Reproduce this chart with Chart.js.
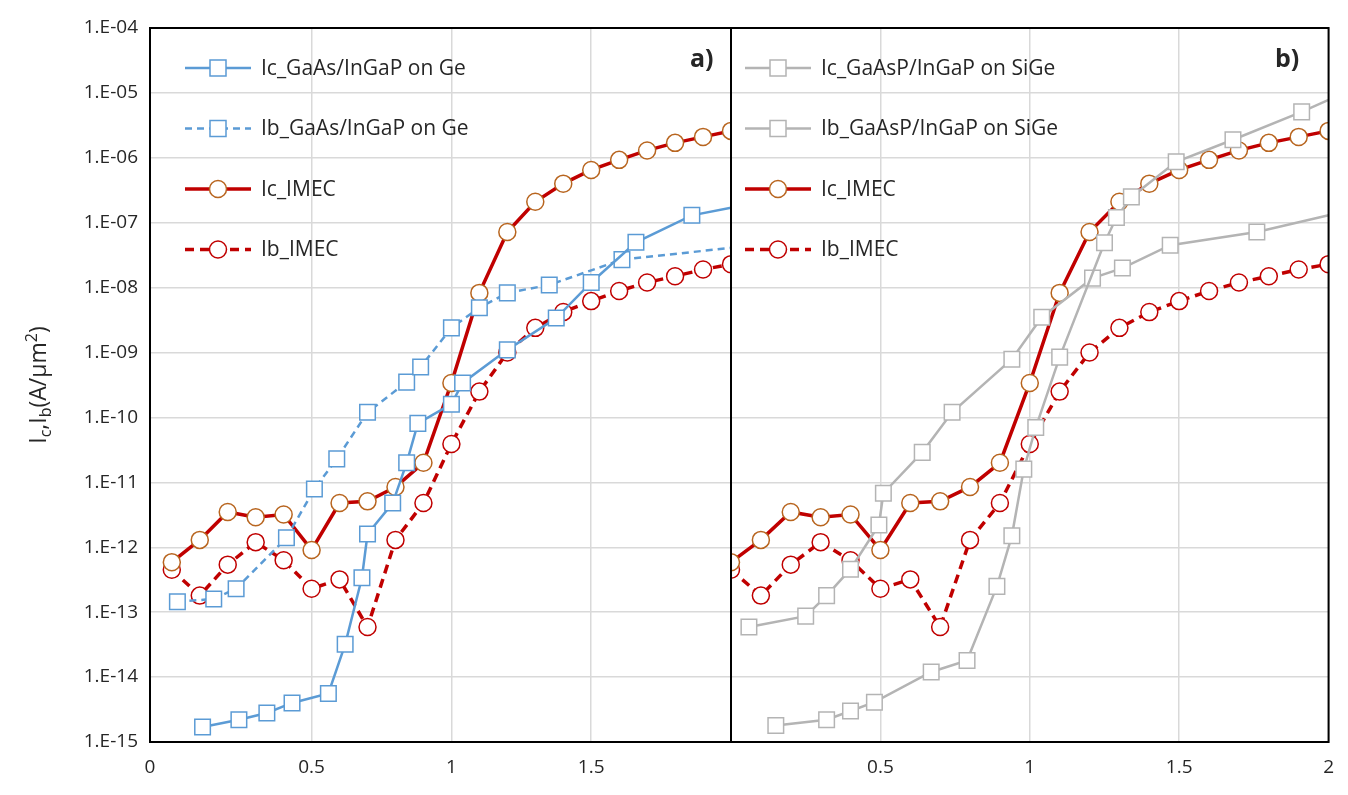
<!DOCTYPE html>
<html>
<head>
<meta charset="utf-8">
<script src="https://cdn.jsdelivr.net/npm/chart.js@4.4.1/dist/chart.umd.min.js"></script>
<style>
  body { margin: 0; background: #fff; }
  #wrapA { position: absolute; left: 0; top: 0; width: 733px; height: 795px; }
  #wrapB { position: absolute; left: 731px; top: 0; width: 617px; height: 795px; }
</style>
</head>
<body>
<div id="wrapA"><canvas id="chartA"></canvas></div>
<div id="wrapB"><canvas id="chartB"></canvas></div>
<script>
// IMEC reference curves (same in both panels)
const xImec = [0,0.1,0.2,0.3,0.4,0.5,0.6,0.7,0.8,0.9,1.0,1.1,1.2,1.3,1.4,1.5,1.6,1.7,1.8,1.9,2.0]
const icImec = [5.9e-13,1.3e-12,3.5e-12,2.9e-12,3.2e-12,9.1e-13,4.8e-12,5.1e-12,8.5e-12,2.0e-11,3.4e-10,8.3e-9,7.2e-8,2.1e-7,4.0e-7,6.5e-7,9.3e-7,1.3e-6,1.7e-6,2.1e-6,2.6e-6]
const ibImec = [4.5e-13,1.8e-13,5.4e-13,1.2e-12,6.3e-13,2.3e-13,3.2e-13,5.9e-14,1.3e-12,4.8e-12,3.9e-11,2.5e-10,1.0e-9,2.4e-9,4.2e-9,6.2e-9,8.9e-9,1.2e-8,1.5e-8,1.9e-8,2.3e-8]

// panel a) GaAs/InGaP on Ge
const xIcGaAs = [0.11,0.24,0.34,0.43,0.56,0.62,0.68,0.70,0.79,0.84,0.88,1.0,1.04,1.2,1.375,1.5,1.66,1.86,2.0]
const icGaAs = [1.7e-15,2.2e-15,2.8e-15,4.0e-15,5.6e-15,3.2e-14,3.4e-13,1.6e-12,4.8e-12,2.0e-11,8.1e-11,1.6e-10,3.4e-10,1.1e-9,3.4e-9,1.2e-8,5.0e-8,1.3e-7,1.7e-7]
const xIbGaAs = [0.02,0.15,0.23,0.41,0.51,0.59,0.70,0.84,0.89,1.0,1.1,1.2,1.35,1.61,2.0]
const ibGaAs = [1.45e-13,1.6e-13,2.3e-13,1.4e-12,7.9e-12,2.3e-11,1.2e-10,3.5e-10,6.0e-10,2.4e-9,4.9e-9,8.3e-9,1.1e-8,2.7e-8,4.1e-8]

// panel b) GaAsP/InGaP on SiGe
const xIcGaAsP = [0.15,0.32,0.40,0.48,0.67,0.79,0.89,0.94,0.98,1.02,1.10,1.25,1.29,1.34,1.49,1.68,1.91,2.0]
const icGaAsP = [1.8e-15,2.2e-15,3.0e-15,4.1e-15,1.2e-14,1.8e-14,2.5e-13,1.5e-12,1.6e-11,7.0e-11,8.5e-10,4.9e-8,1.2e-7,2.5e-7,8.7e-7,1.9e-6,5.1e-6,7.8e-6]
const xIbGaAsP = [0.06,0.25,0.32,0.40,0.495,0.51,0.64,0.74,0.94,1.04,1.21,1.31,1.47,1.76,2.0]
const ibGaAsP = [5.9e-14,8.7e-14,1.8e-13,4.6e-13,2.2e-12,6.8e-12,2.9e-11,1.2e-10,7.9e-10,3.5e-9,1.4e-8,2.0e-8,4.5e-8,7.2e-8,1.3e-7]

const yTicks = [1e-15,1e-14,1e-13,1e-12,1e-11,1e-10,1e-9,1e-8,1e-7,1e-6,1e-5,1e-4]

const BLUE = "#5b9bd5", RED = "#c00000", BROWN = "#b8651f", GREY = "#b4b4b4"
const FONT = "'Open Sans', sans-serif"

const pts = (xs, ys) => xs.map((x, i) => ({x: x, y: ys[i]}))
const hideLast = n => ctx => ctx.dataIndex === n - 1 ? 0 : 11

function imecSets() {
    return [
        { label: "Ic_IMEC", data: pts(xImec, icImec), borderColor: RED, borderWidth: 3.5,
          pointStyle: "circle", pointRadius: 8.5, pointBorderColor: BROWN, pointBackgroundColor: "#fff", pointBorderWidth: 1.5 },
        { label: "Ib_IMEC", data: pts(xImec, ibImec), borderColor: RED, borderWidth: 3.5, borderDash: [9, 6],
          pointStyle: "circle", pointRadius: 8.5, pointBorderColor: RED, pointBackgroundColor: "#fff", pointBorderWidth: 1.5 },
    ]
}

function sqSet(label, xs, ys, color, dashed, width) {
    return { label: label, data: pts(xs, ys), borderColor: color, borderWidth: width, borderDash: dashed ? [7, 5] : [],
        pointStyle: "rect", pointRadius: hideLast(xs.length), pointBorderColor: color, pointBackgroundColor: "#fff", pointBorderWidth: 1.5 }
}

function expLabel(v) {
    const e = Math.round(Math.log10(v))
    return "1.E" + (e < 0 ? "-" : "+") + String(Math.abs(e)).padStart(2, "0")
}

// frame, legend and panel letter
function framePlugin(legend, letter, letterX, withTitle) {
    return {
        id: "frame",
        afterDraw(chart) {
            const c = chart.ctx, a = chart.chartArea
            c.save()
            c.strokeStyle = "#000"; c.lineWidth = 2
            c.strokeRect(a.left, a.top, a.right - a.left, a.bottom - a.top)
            // legend
            c.font = "21px " + FONT; c.textBaseline = "middle"
            legend.forEach((it, i) => {
                const y = 68 + i * 60.5
                const x0 = it.x, x1 = it.x + 66, xm = it.x + 33
                c.strokeStyle = it.ds.borderColor; c.lineWidth = it.ds.borderWidth
                c.setLineDash(it.ds.borderDash || [])
                c.beginPath(); c.moveTo(x0, y); c.lineTo(x1, y); c.stroke()
                c.setLineDash([])
                c.fillStyle = "#fff"; c.strokeStyle = it.ds.pointBorderColor; c.lineWidth = 1.5
                c.beginPath()
                if (it.ds.pointStyle === "circle") c.arc(xm, y, 8.5, 0, Math.PI * 2)
                else c.rect(xm - 8, y - 8, 16, 16)
                c.fill(); c.stroke()
                c.fillStyle = "#262626"
                c.fillText(it.ds.label, x1 + 10, y + 1)
            })
            c.font = "bold 25px " + FONT; c.fillStyle = "#262626"
            c.fillText(letter, letterX, 60)
            if (withTitle) {
                c.translate(38, 385); c.rotate(-Math.PI / 2)
                const runs = [["I", 0, 23], ["c", 5, 16], [",I", 0, 23], ["b", 5, 16], ["(A/µm", 0, 23], ["2", -9, 16], [")", 0, 23]]
                let w = 0
                runs.forEach(r => { c.font = r[2] + "px " + FONT; w += c.measureText(r[0]).width })
                let x = -w / 2
                c.textBaseline = "alphabetic"; c.fillStyle = "#262626"
                runs.forEach(r => { c.font = r[2] + "px " + FONT; c.fillText(r[0], x, 8 + r[1]); x += c.measureText(r[0]).width })
            }
            c.restore()
        }
    }
}

function makeOptions(xMin, xTickVals, labelFn, showY) {
    return {
        responsive: true, maintainAspectRatio: false, animation: false,
        layout: { autoPadding: false, padding: { top: 28, bottom: 0, left: 0, right: showY ? 2 : 19 } },
        plugins: { legend: { display: false }, tooltip: { enabled: false } },
        scales: {
            x: {
                type: "linear", min: xMin, max: 2,
                afterBuildTicks: s => { s.ticks = xTickVals.map(v => ({value: v})) },
                afterFit: s => { s.height = 53 },
                grid: { color: "#d9d9d9", lineWidth: 1.5, drawTicks: false },
                border: { display: false },
                ticks: { callback: labelFn, color: "#262626", font: { family: FONT, size: 19 }, padding: 14, maxRotation: 0 },
            },
            y: {
                type: "logarithmic", min: 1e-15, max: 1e-4, display: true,
                afterBuildTicks: s => { s.ticks = yTicks.map(v => ({value: v})) },
                afterFit: s => { s.width = showY ? 150 : 0 },
                grid: { color: "#d9d9d9", lineWidth: 1.5, drawTicks: false },
                border: { display: false },
                ticks: { display: showY, callback: v => expLabel(v), color: "#262626", font: { family: FONT, size: 19 }, padding: 12 },
            }
        }
    }
}

const setsA = [
    sqSet("Ic_GaAs/InGaP on Ge", xIcGaAs, icGaAs, BLUE, false, 2.5),
    sqSet("Ib_GaAs/InGaP on Ge", xIbGaAs, ibGaAs, BLUE, true, 2.5),
    ...imecSets()
]
const setsB = [
    sqSet("Ic_GaAsP/InGaP on SiGe", xIcGaAsP, icGaAsP, GREY, false, 2.5),
    sqSet("Ib_GaAsP/InGaP on SiGe", xIbGaAsP, ibGaAsP, GREY, false, 2.5),
    ...imecSets()
]

new Chart(document.getElementById("chartA"), {
    type: "line",
    data: { datasets: setsA },
    options: makeOptions(-0.078, [-0.078, 0.5, 1, 1.5], v => v < 0 ? "0" : String(v), true),
    plugins: [framePlugin(setsA.map(d => ({ds: d, x: 185})), "a)", 690, true)]
})

new Chart(document.getElementById("chartB"), {
    type: "line",
    data: { datasets: setsB },
    options: makeOptions(0, [0.5, 1, 1.5, 2], v => String(v), false),
    plugins: [framePlugin(setsB.map(d => ({ds: d, x: 14})), "b)", 544, false)]
})
</script>
</body>
</html>
